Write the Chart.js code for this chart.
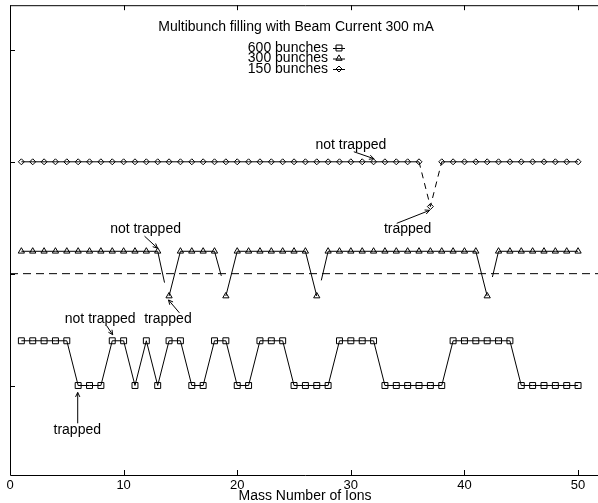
<!DOCTYPE html>
<html><head><meta charset="utf-8">
<style>html,body{margin:0;padding:0;background:#fff;overflow:hidden;}canvas{display:block;}</style>
<script src="https://cdn.jsdelivr.net/npm/chart.js@4/dist/chart.umd.min.js"></script>
</head><body>
<canvas id="c" width="606" height="503"></canvas>
<script>
// ---------- data ----------
const massNumbers = [1,2,3,4,5,6,7,8,9,10,11,12,13,14,15,16,17,18,19,20,21,22,23,24,25,
  26,27,28,29,30,31,32,33,34,35,36,37,38,39,40,41,42,43,44,45,46,47,48,49,50];
const bunches600 = [0.4,0.4,0.4,0.4,0.4,0,0,0,0.4,0.4,0,0.4,0,0.4,0.4,0,0,0.4,0.4,0,0,0.4,0.4,0.4,0,
  0,0,0,0.4,0.4,0.4,0.4,0,0,0,0,0,0,0.4,0.4,0.4,0.4,0.4,0.4,0,0,0,0,0,0];
const bunches300 = [1.2,1.2,1.2,1.2,1.2,1.2,1.2,1.2,1.2,1.2,1.2,1.2,1.2,0.8,1.2,1.2,1.2,1.2,0.8,1.2,1.2,1.2,1.2,1.2,1.2,
  1.2,0.8,1.2,1.2,1.2,1.2,1.2,1.2,1.2,1.2,1.2,1.2,1.2,1.2,1.2,1.2,0.8,1.2,1.2,1.2,1.2,1.2,1.2,1.2,1.2];
const bunches150 = [2,2,2,2,2,2,2,2,2,2,2,2,2,2,2,2,2,2,2,2,2,2,2,2,2,
  2,2,2,2,2,2,2,2,2,2,2,1.6,2,2,2,2,2,2,2,2,2,2,2,2,2];
const seriesLabels = ['600 bunches', '300 bunches', '150 bunches'];
const breaks300 = [13, 18, 27, 42];          // segments (starting at these x) not drawn
const dashed150 = [36, 37];                  // segments (starting at these x) dashed
const stubs300 = [[13,1.2,13.6,0.92],[18,1.2,18.6,0.98],[27.4,0.94,28,1.2],[42.46,0.97,43,1.2]];
const thresholdLevel = 1.0;
const xTickValues = [0, 10, 20, 30, 40, 50];
const yTickValues = [0, 1, 2, 3];
const chartTitle = 'Multibunch filling with Beam Current 300 mA';
const xAxisTitle = 'Mass Number of Ions';
const notes = [
  {text:'not trapped', tx:11.93, ty:1.397, from:[11.84,1.335], to:[12.98,1.228]},
  {text:'trapped',     tx:13.9,  ty:0.596, from:[14.91,0.65],  to:[13.95,0.765]},
  {text:'not trapped', tx:7.94,  ty:0.596, from:[8.51,0.534],  to:[9.04,0.454]},
  {text:'trapped',     tx:5.92,  ty:-0.40, from:[5.96,-0.338], to:[5.96,-0.062]},
  {text:'not trapped', tx:30.0,  ty:2.153, from:[30.26,2.09],  to:[32.02,2.028]},
  {text:'trapped',     tx:35.0,  ty:1.397, from:[34.04,1.45],  to:[36.93,1.566]}
];

// ---------- build ----------
const pts = ys => massNumbers.map((x, i) => ({x, y: ys[i]}));
const FONT = '"Liberation Sans", Arial, Helvetica, sans-serif';
const INK = '#000';

const datasets = [
  {label: seriesLabels[0], data: pts(bunches600), pointStyle: 'rect', pointRadius: 4.2},
  {label: seriesLabels[1], data: pts(bunches300), pointStyle: 'triangle', pointRadius: 3.6,
   segment: {borderColor: c => breaks300.includes(c.p0.parsed.x) ? 'rgba(0,0,0,0)' : INK}},
  {label: seriesLabels[2], data: pts(bunches150), pointStyle: 'rectRot', pointRadius: 3,
   segment: {borderDash: c => dashed150.includes(c.p0.parsed.x) ? [6,5] : []}},
  {label: 'threshold', data: [{x:0, y:thresholdLevel}, {x:52, y:thresholdLevel}], pointRadius: 0, borderDash: [8,5]}
].concat(stubs300.map(s => ({label: 'stub', data: [{x:s[0], y:s[1]}, {x:s[2], y:s[3]}], pointRadius: 0})));

datasets.forEach(d => {
  d.borderColor = INK; d.borderWidth = 1; d.pointBorderColor = INK; d.pointBorderWidth = 1;
  d.pointBackgroundColor = 'rgba(0,0,0,0)'; d.fill = false; d.tension = 0;
});

function arrow(ctx, x0, y0, x1, y1) {
  ctx.beginPath(); ctx.moveTo(x0, y0); ctx.lineTo(x1, y1); ctx.stroke();
  const a = Math.atan2(y1 - y0, x1 - x0), L = 5, w = 0.45;
  ctx.beginPath();
  ctx.moveTo(x1 - L * Math.cos(a - w), y1 - L * Math.sin(a - w));
  ctx.lineTo(x1, y1);
  ctx.lineTo(x1 - L * Math.cos(a + w), y1 - L * Math.sin(a + w));
  ctx.stroke();
}

const decor = {
  id: 'decor',
  afterDraw(chart) {
    const {ctx, chartArea: a, scales: {x, y}} = chart;
    ctx.save();
    ctx.strokeStyle = INK; ctx.lineWidth = 1; ctx.setLineDash([]);
    // frame
    ctx.beginPath();
    ctx.moveTo(a.right, a.top + 0.5); ctx.lineTo(Math.round(a.left) + 0.5, a.top + 0.5);
    ctx.lineTo(Math.round(a.left) + 0.5, a.bottom + 0.5); ctx.lineTo(a.right, a.bottom + 0.5);
    ctx.stroke();
    // inward ticks
    ctx.beginPath();
    xTickValues.forEach(v => {
      const px = Math.round(x.getPixelForValue(v)) + 0.5;
      ctx.moveTo(px, a.bottom); ctx.lineTo(px, a.bottom - 5);
      ctx.moveTo(px, a.top); ctx.lineTo(px, a.top + 5);
    });
    yTickValues.forEach(v => {
      const py = Math.round(y.getPixelForValue(v)) + 0.5;
      ctx.moveTo(a.left, py); ctx.lineTo(a.left + 5, py);
    });
    ctx.stroke();
    // title
    ctx.fillStyle = INK;
    ctx.font = '14px ' + FONT; ctx.textAlign = 'center'; ctx.textBaseline = 'middle';
    ctx.fillText(chartTitle, 296, 27);
    // axis title
    ctx.textBaseline = 'alphabetic';
    ctx.fillText(xAxisTitle, 305, 500);
    // legend
    const styles = ['rect', 'triangle', 'rectRot'], radii = [4.2, 3.6, 3], ly = [48, 58.5, 69];
    ctx.textAlign = 'right'; ctx.textBaseline = 'middle';
    seriesLabels.forEach((t, i) => {
      ctx.fillStyle = INK;
      ctx.fillText(t, 328, ly[i]);
      ctx.beginPath(); ctx.moveTo(333, ly[i] + 0.5); ctx.lineTo(345, ly[i] + 0.5); ctx.stroke();
      ctx.fillStyle = 'rgba(0,0,0,0)';
      Chart.helpers.drawPoint(ctx, {pointStyle: styles[i], radius: radii[i], rotation: 0, borderWidth: 1}, 339, ly[i]);
    });
    // annotations
    ctx.fillStyle = INK; ctx.textAlign = 'center'; ctx.textBaseline = 'middle';
    notes.forEach(n => {
      ctx.fillText(n.text, x.getPixelForValue(n.tx), y.getPixelForValue(n.ty));
      arrow(ctx, x.getPixelForValue(n.from[0]), y.getPixelForValue(n.from[1]),
                 x.getPixelForValue(n.to[0]), y.getPixelForValue(n.to[1]));
    });
    ctx.restore();
  }
};

new Chart(document.getElementById('c'), {
  type: 'line',
  data: {datasets},
  options: {
    responsive: false, animation: false, devicePixelRatio: 1,
    layout: {padding: {left: 10, top: 3, right: 3.2, bottom: 0}},
    plugins: {legend: {display: false}, tooltip: {enabled: false}, title: {display: false}},
    scales: {
      x: {
        type: 'linear', min: 0, max: 52,
        grid: {display: false, drawTicks: false}, border: {display: false},
        afterBuildTicks: s => { s.ticks = xTickValues.map(v => ({value: v})); },
        afterFit: s => { s.height = 28; },
        ticks: {color: INK, padding: 3, maxRotation: 0, autoSkip: false, font: {family: FONT, size: 13}}
      },
      y: {
        type: 'linear', min: -0.8, max: 3.4, display: false
      }
    }
  },
  plugins: [decor]
});
</script>
</body></html>
